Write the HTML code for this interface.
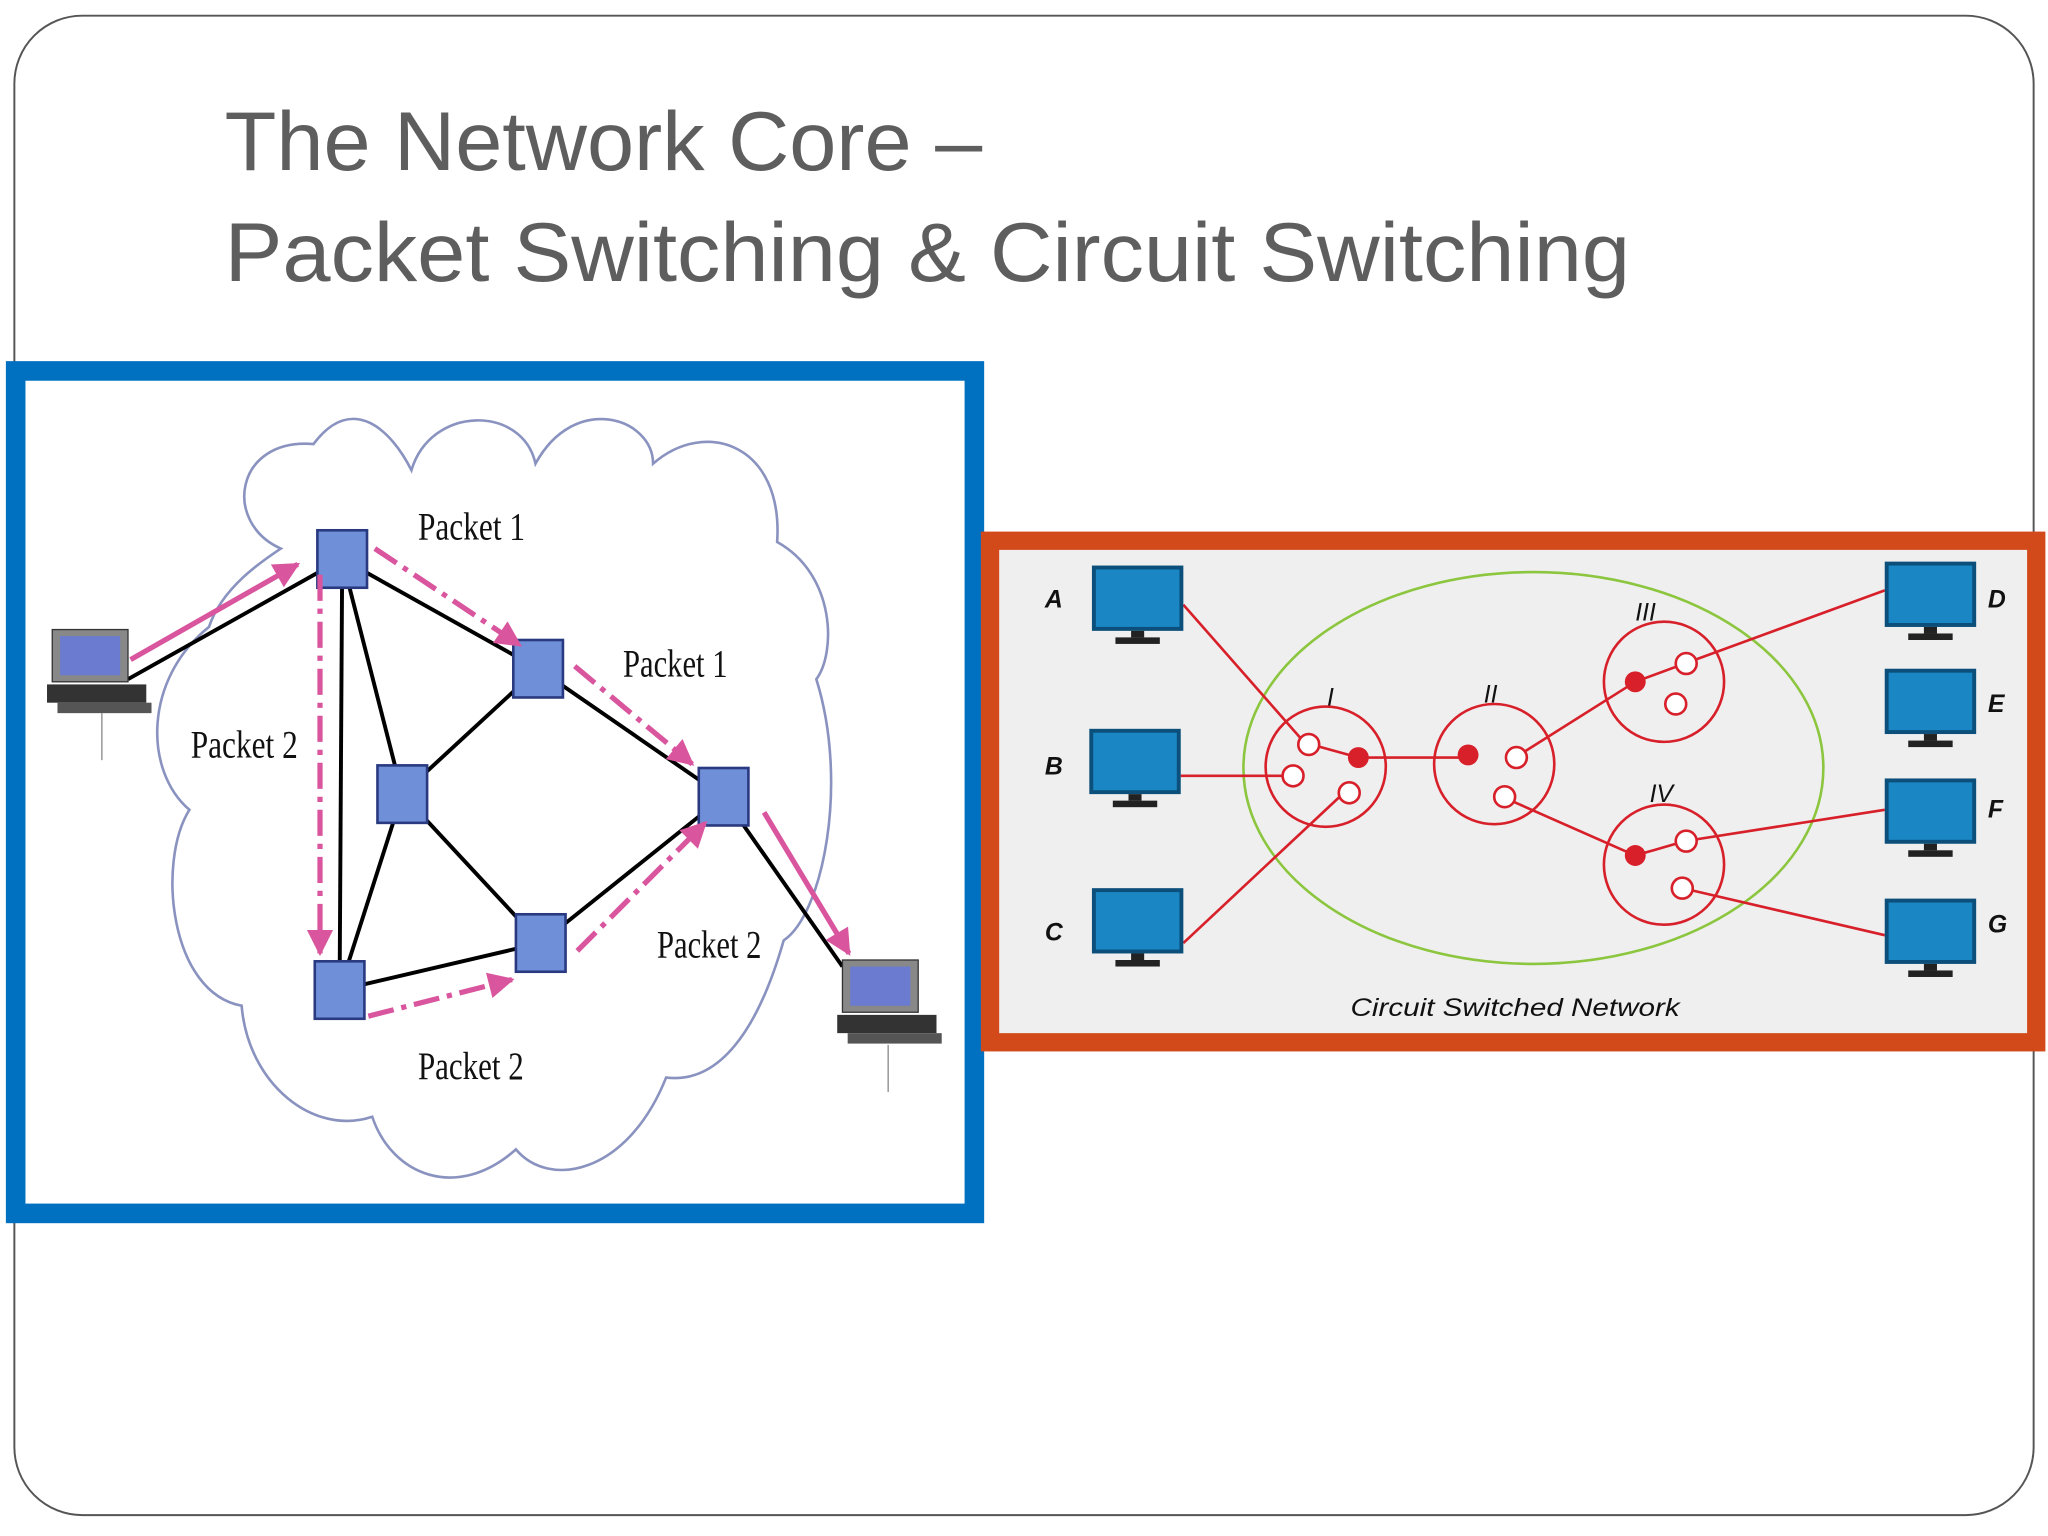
<!DOCTYPE html>
<html><head><style>html,body{margin:0;padding:0;background:#fff;}svg{display:block}</style></head>
<body>
<svg width="2048" height="1536" viewBox="0 0 1568 1176" xmlns="http://www.w3.org/2000/svg">
<defs>
<marker id="ah" viewBox="0 0 10 10" refX="9" refY="5" markerWidth="7" markerHeight="5" orient="auto"><path d="M0,0 L10,5 L0,10 z" fill="#d9559e"/></marker>
<g id="mon"><rect x="0" y="0" width="70" height="50" fill="#0b4f7a"/><rect x="3" y="3" width="64" height="44" fill="#1a86c4"/><rect x="30" y="50" width="10" height="5" fill="#222"/><rect x="18" y="55" width="34" height="5" fill="#222"/></g>
<g id="lap"><rect x="0" y="0" width="58" height="40" fill="#888" stroke="#333"/><rect x="6" y="5" width="46" height="30" fill="#6a7bd0"/><rect x="-4" y="42" width="76" height="14" fill="#333"/><rect x="4" y="56" width="72" height="8" fill="#555"/></g>
</defs>
<rect x="0" y="0" width="1568" height="1176" fill="#fff"/>
<rect x="11" y="12" width="1546" height="1148" rx="52" fill="#fff" stroke="#555" stroke-width="1.5"/>
<text x="172" y="130" font-family="Liberation Sans, sans-serif" font-size="64" fill="#5e5e5e" textLength="580" lengthAdjust="spacingAndGlyphs">The Network Core –</text>
<text x="172" y="215" font-family="Liberation Sans, sans-serif" font-size="64" fill="#5e5e5e" textLength="1076" lengthAdjust="spacingAndGlyphs">Packet Switching &amp; Circuit Switching</text>

<rect x="12" y="284" width="734" height="645" fill="#fff" stroke="#0070c0" stroke-width="15"/>
<path d="M215,420 C170,400 180,335 240,340 C270,300 300,330 315,360 C330,310 400,310 410,355 C440,300 500,320 500,355 C540,320 600,340 595,415 C640,440 640,500 625,520 C650,600 630,700 600,720 C580,790 550,830 510,825 C480,900 420,910 395,880 C350,920 300,900 285,855 C240,870 190,830 185,770 C130,760 120,660 145,620 C110,590 110,520 160,480 C170,450 200,430 215,420 Z" fill="#fff" stroke="#8a93c0" stroke-width="2"/>
<g stroke="#000" stroke-width="3">
<line x1="98" y1="520" x2="262" y2="428"/>
<line x1="262" y1="428" x2="412" y2="512"/>
<line x1="262" y1="428" x2="260" y2="758"/>
<line x1="262" y1="428" x2="308" y2="608"/>
<line x1="308" y1="608" x2="412" y2="512"/>
<line x1="308" y1="608" x2="260" y2="758"/>
<line x1="308" y1="608" x2="414" y2="722"/>
<line x1="412" y1="512" x2="554" y2="610"/>
<line x1="260" y1="758" x2="414" y2="722"/>
<line x1="414" y1="722" x2="554" y2="610"/>
<line x1="554" y1="610" x2="645" y2="740"/>
</g>
<g fill="#6f8fd8" stroke="#2a3a80" stroke-width="2">
<rect x="243" y="406" width="38" height="44"/><rect x="393" y="490" width="38" height="44"/>
<rect x="289" y="586" width="38" height="44"/><rect x="535" y="588" width="38" height="44"/>
<rect x="241" y="736" width="38" height="44"/><rect x="395" y="700" width="38" height="44"/>
</g>
<g stroke="#d9559e" stroke-width="4" fill="none" marker-end="url(#ah)">
<line x1="100" y1="505" x2="228" y2="432"/>
<line x1="287" y1="420" x2="398" y2="494" stroke-dasharray="20,6,4,6"/>
<line x1="440" y1="510" x2="530" y2="585" stroke-dasharray="20,6,4,6"/>
<line x1="585" y1="622" x2="650" y2="730"/>
<line x1="245" y1="440" x2="245" y2="730" stroke-dasharray="20,6,4,6"/>
<line x1="282" y1="778" x2="392" y2="750" stroke-dasharray="20,6,4,6"/>
<line x1="442" y1="728" x2="540" y2="630" stroke-dasharray="20,6,4,6"/>
</g>
<use href="#lap" x="40" y="482"/><line x1="78" y1="546" x2="78" y2="582" stroke="#888"/>
<use href="#lap" x="645" y="735"/><line x1="680" y1="800" x2="680" y2="836" stroke="#888"/>
<g font-family="Liberation Serif, serif" font-size="30" fill="#111">
<text x="320" y="413" textLength="82" lengthAdjust="spacingAndGlyphs">Packet 1</text><text x="477" y="518" textLength="80" lengthAdjust="spacingAndGlyphs">Packet 1</text>
<text x="146" y="580" textLength="82" lengthAdjust="spacingAndGlyphs">Packet 2</text><text x="503" y="733" textLength="80" lengthAdjust="spacingAndGlyphs">Packet 2</text>
<text x="320" y="826" textLength="81" lengthAdjust="spacingAndGlyphs">Packet 2</text>
</g>

<rect x="758" y="414" width="801" height="384" fill="#efefef" stroke="#d24a1a" stroke-width="14"/>
<ellipse cx="1174" cy="588" rx="222" ry="150" fill="none" stroke="#8cc63f" stroke-width="2"/>
<g stroke="#d7202a" stroke-width="2" fill="none">
<line x1="906" y1="463" x2="1000" y2="570"/>
<line x1="904" y1="594" x2="990" y2="594"/>
<line x1="906" y1="722" x2="1030" y2="606"/>
<line x1="1040" y1="580" x2="1124" y2="580"/>
<line x1="1160" y1="580" x2="1252" y2="522"/>
<line x1="1150" y1="610" x2="1252" y2="655"/>
<line x1="1290" y1="508" x2="1443" y2="452"/>
<line x1="1290" y1="644" x2="1443" y2="620"/>
<line x1="1288" y1="680" x2="1443" y2="716"/>
<line x1="1004" y1="570" x2="1040" y2="580"/><line x1="1252" y1="522" x2="1290" y2="508"/><line x1="1252" y1="655" x2="1290" y2="644"/>
<circle cx="1015" cy="587" r="46"/><circle cx="1144" cy="585" r="46"/>
<circle cx="1274" cy="522" r="46"/><circle cx="1274" cy="662" r="46"/>
</g>
<g fill="#fff" stroke="#d7202a" stroke-width="2">
<circle cx="1002" cy="570" r="8"/><circle cx="990" cy="594" r="8"/><circle cx="1033" cy="607" r="8"/>
<circle cx="1161" cy="580" r="8"/><circle cx="1152" cy="610" r="8"/>
<circle cx="1291" cy="508" r="8"/><circle cx="1283" cy="539" r="8"/>
<circle cx="1291" cy="644" r="8"/><circle cx="1288" cy="680" r="8"/>
</g>
<g fill="#d7202a"><circle cx="1040" cy="580" r="8"/><circle cx="1124" cy="578" r="8"/><circle cx="1252" cy="522" r="8"/><circle cx="1252" cy="655" r="8"/></g>
<use href="#mon" x="836" y="433"/><use href="#mon" x="834" y="558"/><use href="#mon" x="836" y="680"/>
<use href="#mon" x="1443" y="430"/><use href="#mon" x="1443" y="512"/><use href="#mon" x="1443" y="596"/><use href="#mon" x="1443" y="688"/>
<g font-family="Liberation Sans, sans-serif" font-size="19" font-style="italic" font-weight="bold" fill="#111">
<text x="800" y="465">A</text><text x="800" y="593">B</text><text x="800" y="720">C</text>
<text x="1522" y="465">D</text><text x="1522" y="545">E</text><text x="1522" y="626">F</text><text x="1522" y="714">G</text>
<text x="1016" y="540" font-weight="normal">I</text><text x="1136" y="538" font-weight="normal">II</text>
<text x="1252" y="475" font-weight="normal">III</text><text x="1263" y="614" font-weight="normal">IV</text>
<text x="1034" y="778" font-weight="normal" textLength="252" lengthAdjust="spacingAndGlyphs">Circuit Switched Network</text>
</g>
</svg>
</body></html>
